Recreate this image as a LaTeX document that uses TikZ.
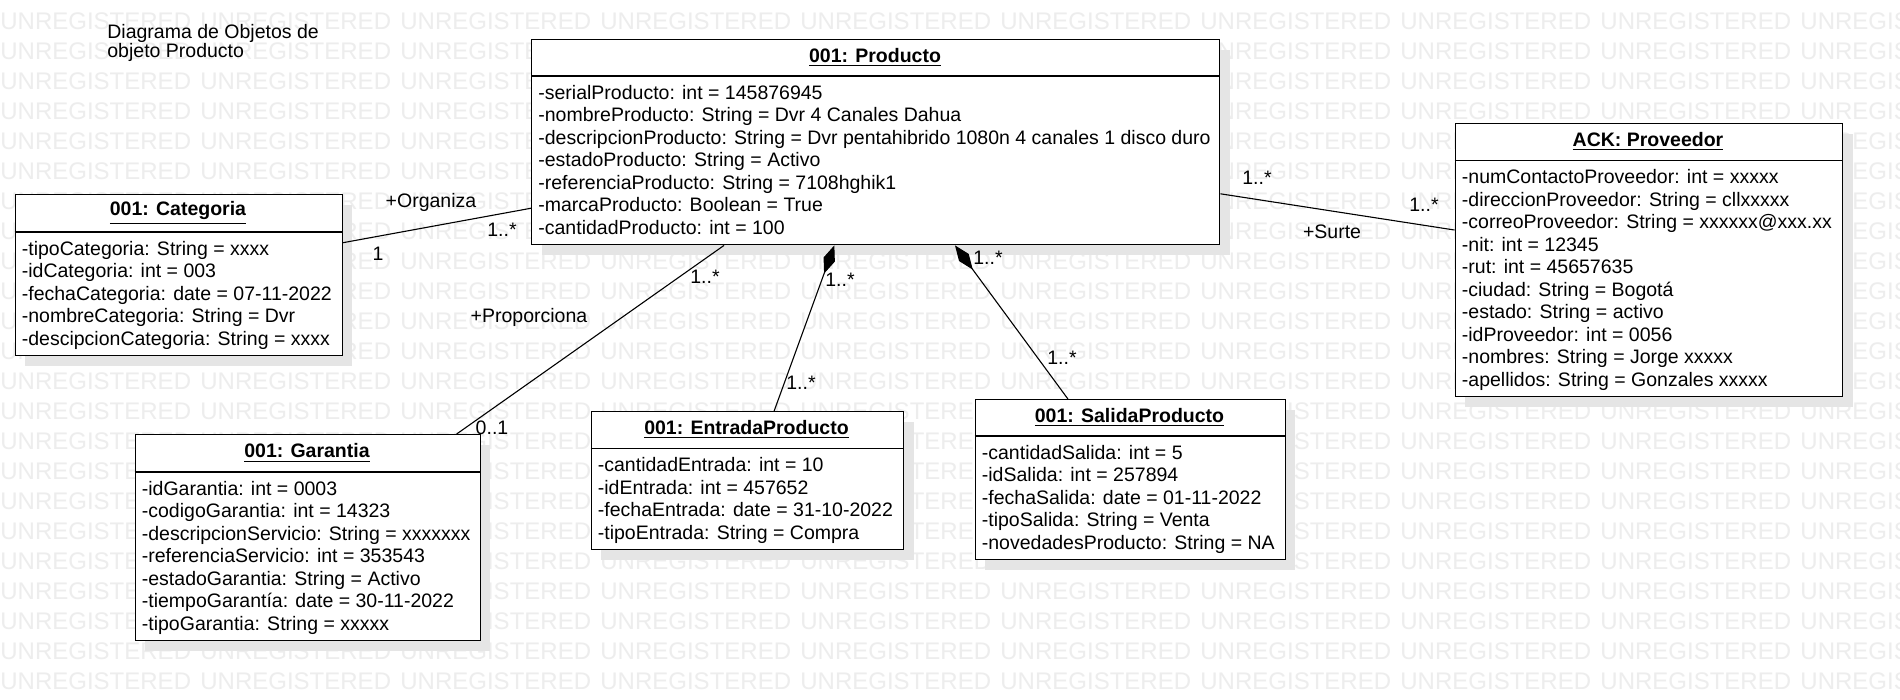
\documentclass[tikz,border=0pt]{standalone}
\usepackage{fontspec}
\setmainfont{Liberation Sans}
\usetikzlibrary{calc,shadows,arrows.meta}
\newcommand{\objfont}{\fontsize{9.75}{11.25}\selectfont}
\tikzset{
  objbox/.style={draw, line width=0.7pt, fill=white, anchor=north west, inner sep=0pt,
    drop shadow={shadow xshift=5pt, shadow yshift=-5pt, fill=black!10, opacity=1}},
  objtitle/.style={inner sep=0pt, font=\objfont\bfseries},
  attrs/.style={anchor=north west, align=left, inner sep=0pt, font=\objfont},
  mult/.style={inner sep=0pt, font=\objfont},
  link/.style={line width=0.55pt},
  comp/.style={link, {Diamond[length=15pt,width=6pt]}-},
  wmark/.style={anchor=west, inner sep=0pt, text=black!7, font=\fontsize{12}{12}\selectfont}
}

\begin{document}
\begin{tikzpicture}[x=0.5pt, y=-0.5pt]
  \useasboundingbox[fill=white] (0,0) rectangle (1900,700);
  %%%%% WATERMARK %%%%%
  \foreach \r in {0,...,22}
    \foreach \c in {0,...,9}
      \node[wmark] (wm-\r-\c) at (\c*200, 21.7+\r*30) {UNREGISTERED};

  \node[anchor=north west, align=left, inner sep=0pt, font=\fontsize{9.75}{9.5}\selectfont] (title) at (107,23.5) {Diagrama de Objetos de\\objeto Producto};

  %%%%% 001: Producto %%%%%
  \node[objbox, minimum width=344pt, minimum height=102.5pt] (prod) at (531,39) {};
  \draw[line width=0.7pt] (531,76) -- (1219,76);
  \node[objtitle] (prod-t) at (875,57.5) {\underline{001: Producto}};
  \node[attrs] (prod-a) at (538,84.5) {-serialProducto: int = 145876945\\-nombreProducto: String = Dvr 4 Canales Dahua\\-descripcionProducto: String = Dvr pentahibrido 1080n 4 canales 1 disco duro\\-estadoProducto: String = Activo\\-referenciaProducto: String = 7108hghik1\\-marcaProducto: Boolean = True\\-cantidadProducto: int = 100};

  %%%%% 001: Categoria %%%%%
  \node[objbox, minimum width=163.5pt, minimum height=80.5pt] (cat) at (14.5,194) {};
  \draw[line width=0.7pt] (14.5,232) -- (341.5,232);
  \node[objtitle] (cat-t) at (178,213) {\underline{001: Categoria}};
  \node[attrs] (cat-a) at (21.5,240.5) {-tipoCategoria: String = xxxx\\-idCategoria: int = 003\\-fechaCategoria: date = 07-11-2022\\-nombreCategoria: String = Dvr\\-descipcionCategoria: String = xxxx};

  %%%%% 001: Garantia %%%%%
  \node[objbox, minimum width=172.5pt, minimum height=103pt] (gar) at (134.5,434) {};
  \draw[line width=0.7pt] (134.5,472) -- (479.5,472);
  \node[objtitle] (gar-t) at (307,453) {\underline{001: Garantia}};
  \node[attrs] (gar-a) at (141.5,480.5) {-idGarantia: int = 0003\\-codigoGarantia: int = 14323\\-descripcionServicio: String = xxxxxxx\\-referenciaServicio: int = 353543\\-estadoGarantia: String = Activo\\-tiempoGarantía: date = 30-11-2022\\-tipoGarantia: String = xxxxx};

  %%%%% 001: EntradaProducto %%%%%
  \node[objbox, minimum width=156.25pt, minimum height=69pt] (ent) at (590.5,411) {};
  \draw[line width=0.7pt] (590.5,448.5) -- (903,448.5);
  \node[objtitle] (ent-t) at (746.5,429.7) {\underline{001: EntradaProducto}};
  \node[attrs] (ent-a) at (597.5,457) {-cantidadEntrada: int = 10\\-idEntrada: int = 457652\\-fechaEntrada: date = 31-10-2022\\-tipoEntrada: String = Compra};

  %%%%% 001: SalidaProducto %%%%%
  \node[objbox, minimum width=155pt, minimum height=80pt] (sal) at (974.5,399) {};
  \draw[line width=0.7pt] (974.5,436) -- (1284.5,436);
  \node[objtitle] (sal-t) at (1129.5,417.5) {\underline{001: SalidaProducto}};
  \node[attrs] (sal-a) at (981.5,444.5) {-cantidadSalida: int = 5\\-idSalida: int = 257894\\-fechaSalida: date = 01-11-2022\\-tipoSalida: String = Venta\\-novedadesProducto: String = NA};

  %%%%% ACK: Proveedor %%%%%
  \node[objbox, minimum width=193.75pt, minimum height=136.5pt] (prov) at (1454.5,123) {};
  \draw[line width=0.7pt] (1454.5,160.5) -- (1842,160.5);
  \node[objtitle] (prov-t) at (1648,141.7) {\underline{ACK: Proveedor}};
  \node[attrs] (prov-a) at (1461.5,169) {-numContactoProveedor: int = xxxxx\\-direccionProveedor: String = cllxxxxx\\-correoProveedor: String = xxxxxx@xxx.xx\\-nit: int = 12345\\-rut: int = 45657635\\-ciudad: String = Bogotá\\-estado: String = activo\\-idProveedor: int = 0056\\-nombres: String = Jorge xxxxx\\-apellidos: String = Gonzales xxxxx};

  %%%%% LINKS %%%%%
  \draw[link] ($(cat.north east)!0.30!(cat.south east)$) -- ($(prod.north west)!0.82!(prod.south west)$);
  \node[mult] (org) at (431,202) {+Organiza};
  \node[mult] (org-a) at (378,254) {1};
  \node[mult] (org-b) at (502,230) {1..*};

  \draw[link] ($(gar.north west)!0.93!(gar.north east)$) -- ($(prod.south west)!0.28!(prod.south east)$);
  \node[mult] (prop) at (529,317) {+Proporciona};
  \node[mult] (prop-a) at (705,277) {1..*};
  \node[mult] (prop-b) at (492,428) {0..1};

  \draw[comp] ($(prod.south west)!0.44!(prod.south east)$) -- ($(ent.north west)!0.585!(ent.north east)$);
  \node[mult] (ent-m1) at (840,280) {1..*};
  \node[mult] (ent-m2) at (801,383) {1..*};

  \draw[comp] ($(prod.south west)!0.615!(prod.south east)$) -- ($(sal.north west)!0.30!(sal.north east)$);
  \node[mult] (sal-m1) at (988,258) {1..*};
  \node[mult] (sal-m2) at (1062,358) {1..*};

  \draw[link] ($(prod.north east)!0.75!(prod.south east)$) -- ($(prov.north west)!0.39!(prov.south west)$);
  \node[mult] (surte) at (1332,232) {+Surte};
  \node[mult] (surte-a) at (1257,178) {1..*};
  \node[mult] (surte-b) at (1424,205) {1..*};
\end{tikzpicture}
\end{document}
